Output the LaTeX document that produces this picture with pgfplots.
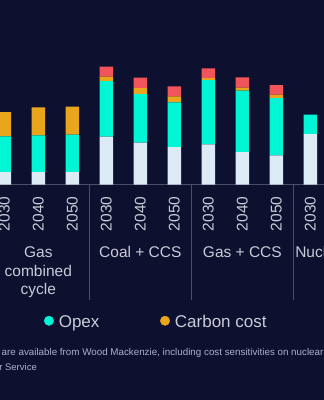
\documentclass[border=0pt]{standalone}
\usepackage{pgfplots}
\usepackage{pgfplotstable}
\pgfplotsset{compat=1.18}
\usepackage{fontspec}
\setmainfont{Liberation Sans}
\definecolor{bgcol}{HTML}{0E1030}
\definecolor{capexcol}{HTML}{DCEAF6}
\definecolor{opexcol}{HTML}{00F5D4}
\definecolor{carboncol}{HTML}{E9A51C}
\definecolor{othercol}{HTML}{F2545B}
\definecolor{linecol}{HTML}{4B4E68}
\definecolor{txtcol}{HTML}{C9CBD7}
\definecolor{notecol}{HTML}{A9B1CB}

\pgfplotstableread{
x capex opex carbon other
0 12.5 35.7 24.3 0
1 12.5 36.7 28.0 0
2 12.5 37.3 28.0 0
3 47.8 55.7 4.3 10.0
4 41.8 48.7 6.0 10.3
5 37.5 44.7 6.0 10.0
6 40.2 64.3 2.0 9.7
7 32.5 61.3 3.0 10.4
8 29.2 57.3 3.3 9.7
9 50.5 19.3 0 0
}\costdata

\begin{document}
\begin{tikzpicture}
\fill[bgcol] (0,0) rectangle (324pt,400pt);
\begin{axis}[
  at={(0pt,215.5pt)}, anchor=south west,
  scale only axis, width=324pt, height=184.5pt,
  xmin=-0.126, xmax=9.40, ymin=0, ymax=184.5,
  clip=false,
  ybar stacked, bar width=13.5pt,
  axis line style={draw=none},
  ytick=\empty,
  xtick={0,...,9},
  xticklabels={2030,2040,2050,2030,2040,2050,2030,2040,2050,2030},
  major tick length=0pt,
  xticklabel style={rotate=90, anchor=east, inner sep=0pt, text=txtcol, font=\fontsize{15.5}{18}\selectfont},
  xticklabel shift=12pt,
  legend columns=2,
  legend style={draw=none, fill=none, inner sep=0pt, outer sep=0pt,
    font=\fontsize{17}{20}\selectfont, text=txtcol,
    nodes={inner sep=0pt, text height=12pt, text depth=3.5pt},
    /tikz/every odd column/.append style={column sep=5pt},
    /tikz/every even column/.append style={column sep=60.7pt},
    at={(axis cs:1.168,-138.7)}, anchor=west},
]
\addplot[fill=capexcol, draw=none, forget plot] table[x=x,y=capex]{\costdata};
\addplot[fill=opexcol, draw=none, forget plot] table[x=x,y=opex]{\costdata};
\addplot[fill=carboncol, draw=none, forget plot] table[x=x,y=carbon]{\costdata};
\addplot[fill=othercol, draw=none, forget plot] table[x=x,y=other]{\costdata};
\addlegendimage{legend image code/.code={\fill[opexcol] (4.7pt,2.45pt) circle (4.7pt);}}
\addlegendentry{Opex}
\addlegendimage{legend image code/.code={\fill[carboncol] (4.7pt,2.45pt) circle (4.7pt);}}
\addlegendentry{Carbon cost}
\draw[linecol, line width=0.8pt] (axis cs:-0.126,0) -- (axis cs:9.40,0);
\draw[linecol, line width=0.8pt] (axis cs:2.5,0) -- (axis cs:2.5,-115.5);
\draw[linecol, line width=0.8pt] (axis cs:5.5,0) -- (axis cs:5.5,-115.5);
\draw[linecol, line width=0.8pt] (axis cs:8.5,0) -- (axis cs:8.5,-115.5);
\node[anchor=north, inner sep=0pt, text=txtcol, font=\fontsize{15.5}{18.5}\selectfont, align=center] at (axis cs:1,-62) {Gas\\combined\\cycle};
\node[anchor=north, inner sep=0pt, text=txtcol, font=\fontsize{15.5}{18.5}\selectfont] at (axis cs:4,-62) {Coal + CCS};
\node[anchor=north, inner sep=0pt, text=txtcol, font=\fontsize{15.5}{18.5}\selectfont] at (axis cs:7,-62) {Gas + CCS};
\node[anchor=north west, inner sep=0pt, text=txtcol, font=\fontsize{15.5}{18.5}\selectfont] at (axis cs:8.55,-62) {Nuclear};
\end{axis}
\node[anchor=base west, inner sep=0pt, text=notecol, font=\fontsize{9.8}{11}\selectfont] at (1.5pt,44.5pt) {are available from Wood Mackenzie, including cost sensitivities on nuclear power};
\node[anchor=base east, inner sep=0pt, text=notecol, font=\fontsize{9.5}{11}\selectfont] at (37pt,30pt) {Power Service};
\pgfresetboundingbox
\useasboundingbox (0,0) rectangle (324pt,400pt);
\end{tikzpicture}
\end{document}
